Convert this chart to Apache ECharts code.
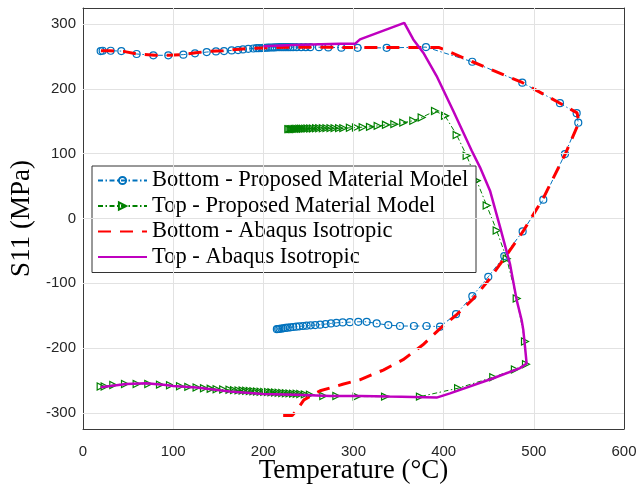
<!DOCTYPE html>
<html>
<head>
<meta charset="utf-8">
<script src="https://cdn.jsdelivr.net/npm/echarts@6/dist/echarts.min.js"></script>
<style>
  html, body { margin: 0; padding: 0; background: #fff; }
  #chart { width: 638px; height: 488px; }
</style>
</head>
<body>
<div id="chart"></div>
<script>
// Series labels
const seriesNames = [
  'Bottom - Proposed Material Model',
  'Top - Proposed Material Model',
  'Bottom - Abaqus Isotropic',
  'Top - Abaqus Isotropic'
];

// Axis ticks
const xTicks = [0, 100, 200, 300, 400, 500, 600];
const yTicks = [-300, -200, -100, 0, 100, 200, 300];

// Bottom surface, proposed material model (temperature in °C, S11 in MPa)
const bottomModelT = [19.6, 21.8, 30.7, 42.5, 59.5, 78, 94.6, 111.3, 124.2, 137.2, 147.5, 156.4, 164.9, 172, 177.4, 183.3, 188.9,
  192.5, 195, 197.5, 200, 202.5, 205, 207.5, 210, 212.5, 215, 217.5, 220, 222.5, 225, 227.5, 230, 233, 237, 242, 247, 252,
  261.7, 272, 286.5, 304.5, 336.8, 380.4, 431.7, 487.2, 529, 547.5, 549.3, 534.5, 510.5, 487.6, 467.2, 449.5, 431.8, 413.7,
  396, 381, 367, 351.6, 338.6, 325.7, 314.6, 305.3, 296, 288, 281, 275, 269, 263, 257.5, 252.5, 248, 244, 240, 236.5, 233,
  230, 227, 224.5, 222, 220, 218, 216.5, 215];
const bottomModelS = [258.5, 259, 259, 258.5, 254, 252, 252, 253, 255, 257, 258, 258.5, 259.5, 260, 261, 262, 262.5,
  263, 263, 263.2, 263.4, 263.6, 263.8, 264, 264, 264.2, 264.4, 264.5, 264.5, 264.5, 264.5, 264.5, 264.5, 264.5, 264.5, 264.5, 264.5, 264.5,
  264.5, 264.2, 263.8, 263.5, 263.5, 264.6, 242, 209.7, 178, 162.6, 148, 99.5, 29, -20, -58, -90, -120, -147.7,
  -167, -166, -166, -166, -164.6, -162, -159.5, -159.5, -160, -160.5, -161, -162, -163, -164, -164.5, -165, -165.5, -166, -166.5, -167, -167.5,
  -168, -168.5, -169, -169.5, -170, -170.3, -170.6, -170.8];

// Top surface, proposed material model
const topModelT = [227.7, 229, 230.5, 232, 233.5, 235, 236.5, 238, 240, 242, 244, 246.5, 249, 252, 255, 258.5, 262, 266, 270, 274.5,
  279, 284, 288.7, 296, 302.8, 310.2, 318.3, 326.8, 336, 345.3, 355.2, 366.3, 375.6, 390.4, 401.5, 414.4, 425.5, 436.6, 447.7,
  458.8, 469.9, 481, 490.2, 491.3, 479, 455, 416, 373.7, 335, 303.5, 281, 266.5, 251.7, 246, 241, 237, 233, 229, 225, 221, 217,
  213, 209, 205, 201, 197, 193, 189, 185, 181, 177, 172.5, 167.5, 162.5, 155.5, 148.2, 141.6, 134.2, 126, 116.8, 107.6, 96.5,
  85.4, 72.4, 59.5, 46.6, 33.6, 24, 19.6];
const topModelS = [138, 138, 138, 138, 138, 138.2, 138.3, 138.4, 138.5, 138.6, 138.7, 138.8, 138.9, 139, 139.1, 139.2, 139.3, 139.4, 139.5, 139.5,
  139.5, 139.5, 139.5, 140, 140.5, 141, 141.5, 143, 144.6, 145.7, 148, 151, 156, 166, 158.5, 129, 97, 58.5, 20,
  -18.5, -62, -123.5, -190, -225, -233, -245, -262, -275, -275, -275, -274, -274, -272, -271.5, -271, -270.7, -270.4, -270, -269.7, -269.4, -269,
  -268.7, -268.4, -268, -267.7, -267.4, -267, -266.7, -266.4, -266, -265.7, -265.4, -265, -264.5, -264, -263.5, -263, -262, -261, -260, -259, -257.5,
  -256.5, -255.4, -255.4, -255.4, -257, -259.5, -259.5];

// Bottom surface, Abaqus isotropic hardening
const bottomAbaqusT = [20, 30, 45, 60, 80, 95, 110, 125, 140, 155, 170, 190, 210, 230, 260, 300, 340, 395, 432, 487, 529,
  548, 550, 535, 510, 488, 468, 450, 432, 414, 396, 377, 355, 333, 307, 288, 263, 245, 236, 232, 222];
const bottomAbaqusS = [259, 259, 258, 254, 252, 252, 253, 256, 258, 259, 261, 263, 264, 264.5, 264.5, 264, 264, 264, 242, 210, 178,
  163, 148, 100, 30, -20, -60, -95, -125, -149, -170, -195, -218, -234, -249, -256, -266, -280, -298, -304, -304];

// Top surface, Abaqus isotropic hardening
const topAbaqusT = [200, 233, 285, 301.6, 307.2, 356.3, 366.3, 377.4, 392.2, 410.7, 431, 440.3, 451.4, 462.5, 473.5, 481,
  486.5, 488.3, 490.2, 492, 484.6, 455, 407, 392.2, 340, 307, 274, 237, 200, 163, 126, 100, 92, 70, 48, 19.6];
const topAbaqusS = [266, 267.7, 269.7, 269.7, 276.5, 302, 276.5, 256, 220, 166, 105, 79, 43, -13, -70, -126,
  -157, -172, -198, -224, -231, -246.6, -270, -276.5, -275, -274, -274, -272, -271, -267, -261, -258.5, -257, -254.4, -255.4, -260.5];

const pairs = (xs, ys) => xs.map((x, i) => [x, ys[i]]);

const BLUE = '#0072BD';
const GREEN = '#008000';
const RED = '#FF0000';
const PURPLE = '#BF00BF';
const AXIS = '#3a3a3a';
const GRID = '#e2e2e2';

const chart = echarts.init(document.getElementById('chart'), null, { renderer: 'canvas' });

const sharedX = { type: 'value', min: 0, max: 600, interval: 100 };
const sharedY = { type: 'value', min: -325, max: 325, splitNumber: 5 };
const boxLine = () => ({ show: true, onZero: false, lineStyle: { color: AXIS, width: 1 } });
const inTick = () => ({ show: true, inside: true, length: 5, lineStyle: { color: AXIS } });

// Grid lines at the labelled ticks, placed through the axes' own scales
const gridLines = [
  ...xTicks.slice(1, -1).map(v => ({ xAxis: v })),
  ...yTicks.map(v => ({ yAxis: v }))
];

chart.setOption({
  animation: false,
  backgroundColor: '#fff',
  grid: { left: 83, right: 14, top: 8, bottom: 59, containLabel: false, outerBoundsMode: 'none' },
  legend: {
    left: 92, top: 166,
    orient: 'vertical',
    backgroundColor: '#fff',
    borderColor: '#333',
    borderWidth: 1,
    borderRadius: 0,
    padding: [3, 5, 4, 5],
    itemWidth: 49,
    itemHeight: 9,
    itemGap: 2.5,
    textStyle: { fontFamily: 'Liberation Serif', fontSize: 22.5, color: '#000', width: 319, lineHeight: 20 },
    data: [
      { name: seriesNames[0] },
      { name: seriesNames[1] },
      { name: seriesNames[2], itemStyle: { opacity: 0 } },
      { name: seriesNames[3], itemStyle: { opacity: 0 } }
    ]
  },
  xAxis: [
    Object.assign({}, sharedX, {
      position: 'bottom',
      name: 'Temperature (°C)',
      nameLocation: 'middle',
      nameGap: 28.5,
      nameMoveOverlap: false,
      nameTextStyle: { fontFamily: 'Liberation Serif', fontSize: 27, color: '#000' },
      axisLine: boxLine(),
      axisTick: inTick(),
      axisLabel: { color: '#262626', fontFamily: 'Liberation Sans', fontSize: 15, margin: 15.5,
        formatter: v => (xTicks.includes(v) ? String(v) : '') },
      splitLine: { show: false }
    }),
    Object.assign({}, sharedX, {
      position: 'top',
      axisLine: boxLine(),
      axisTick: inTick(),
      axisLabel: { show: false },
      splitLine: { show: false }
    })
  ],
  yAxis: [
    Object.assign({}, sharedY, {
      position: 'left',
      name: 'S11 (MPa)',
      nameLocation: 'middle',
      nameGap: 47.5,
      nameRotate: 90,
      nameMoveOverlap: false,
      nameTextStyle: { fontFamily: 'Liberation Serif', fontSize: 27, color: '#000' },
      axisLine: boxLine(),
      axisTick: inTick(),
      axisLabel: { color: '#262626', fontFamily: 'Liberation Sans', fontSize: 15, margin: 7,
        showMinLabel: false, showMaxLabel: false,
        formatter: v => (yTicks.includes(v) ? String(v) : '') },
      splitLine: { show: false }
    }),
    Object.assign({}, sharedY, {
      position: 'right',
      axisLine: boxLine(),
      axisTick: inTick(),
      axisLabel: { show: false },
      splitLine: { show: false }
    })
  ],
  series: [
    {
      name: 'grid', type: 'line', xAxisIndex: 0, yAxisIndex: 0,
      data: [], z: 1, silent: true,
      markLine: {
        silent: true, symbol: 'none', animation: false,
        label: { show: false },
        lineStyle: { color: GRID, width: 1, type: 'solid' },
        emphasis: { disabled: true },
        data: gridLines
      }
    },
    {
      name: seriesNames[0], type: 'line', xAxisIndex: 0, yAxisIndex: 0,
      data: pairs(bottomModelT, bottomModelS),
      symbol: 'circle', symbolSize: 7, showAllSymbol: true,
      lineStyle: { color: BLUE, width: 1, type: [5, 2.5, 1.5, 2.5] },
      itemStyle: { color: 'rgba(255,255,255,0)', borderColor: BLUE, borderWidth: 1.2 },
      z: 2
    },
    {
      name: seriesNames[1], type: 'line', xAxisIndex: 0, yAxisIndex: 0,
      data: pairs(topModelT, topModelS),
      symbol: 'triangle', symbolSize: 7, symbolRotate: -90, showAllSymbol: true,
      lineStyle: { color: GREEN, width: 1, type: [5, 2.5, 1.5, 2.5] },
      itemStyle: { color: 'rgba(255,255,255,0)', borderColor: GREEN, borderWidth: 1.2 },
      z: 3
    },
    {
      name: seriesNames[2], type: 'line', xAxisIndex: 0, yAxisIndex: 0,
      data: pairs(bottomAbaqusT, bottomAbaqusS),
      symbol: 'none', showSymbol: false,
      lineStyle: { color: RED, width: 3, type: [13, 9] },
      itemStyle: { color: RED },
      z: 4
    },
    {
      name: seriesNames[3], type: 'line', xAxisIndex: 0, yAxisIndex: 0,
      data: pairs(topAbaqusT, topAbaqusS),
      symbol: 'none', showSymbol: false,
      lineStyle: { color: PURPLE, width: 2.5, type: 'solid' },
      itemStyle: { color: PURPLE },
      z: 5
    }
  ]
});
</script>
</body>
</html>
